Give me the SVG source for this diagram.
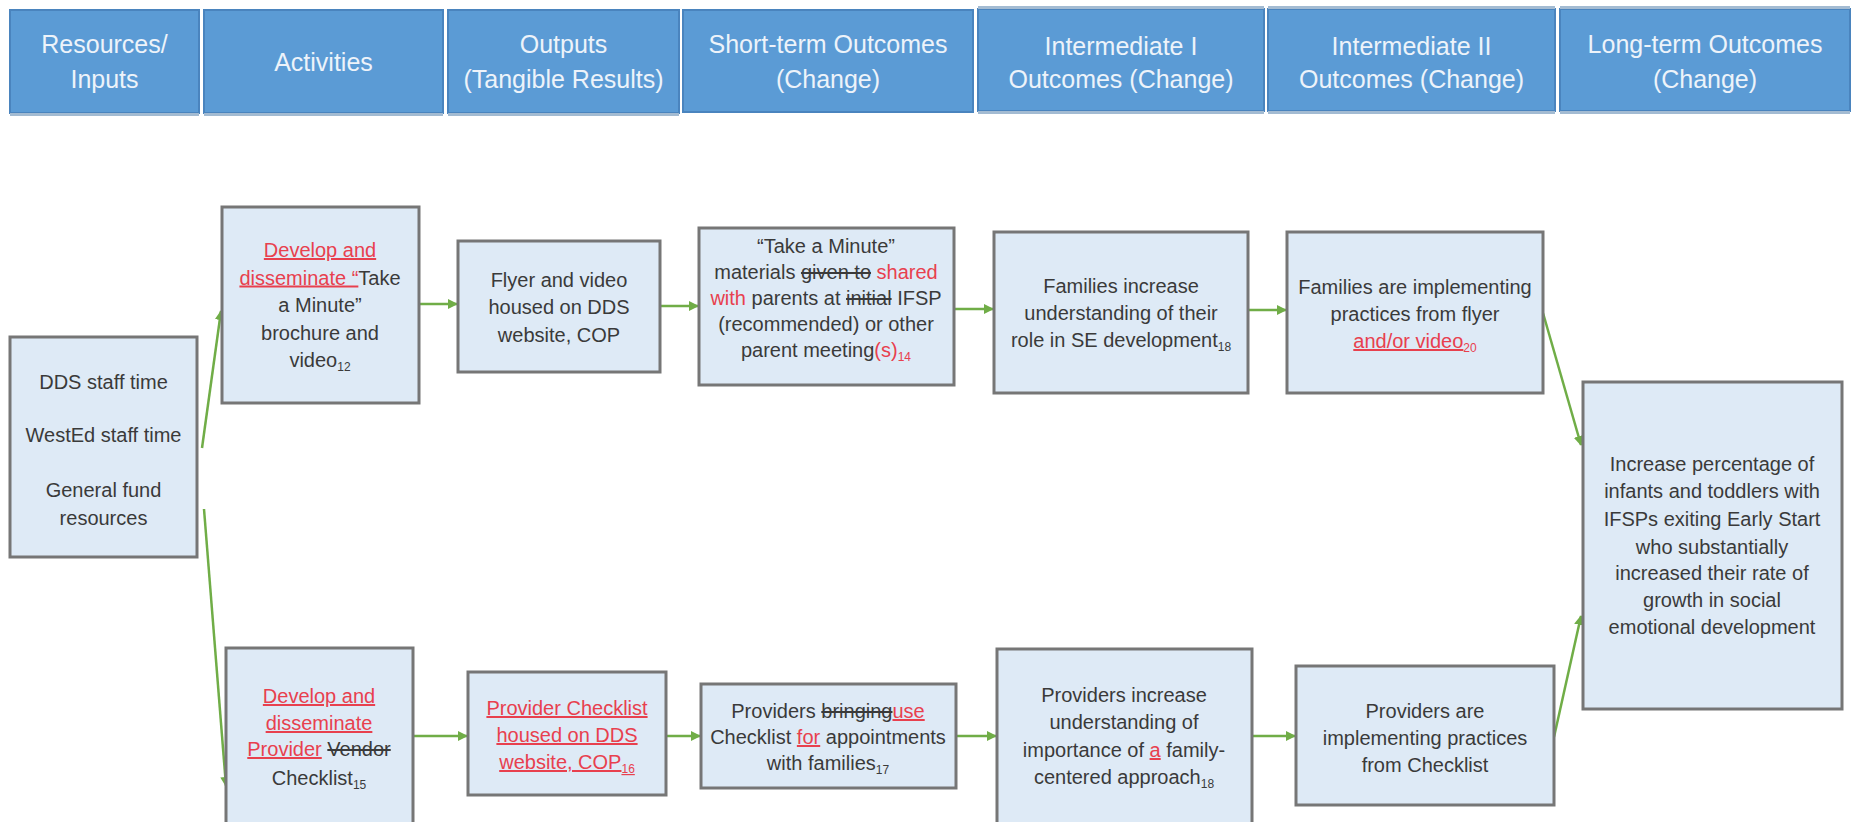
<svg xmlns="http://www.w3.org/2000/svg" width="1857" height="822" viewBox="0 0 1857 822">
<style>
.bg{fill:#FFFFFF}
.hdr{fill:#5B9BD5;stroke:#4A84BE;stroke-width:2}
.hl{stroke:#A3BBD2;stroke-width:3}
.ht{font-family:"Liberation Sans",Arial,sans-serif;font-size:25px;fill:#EDF3FA;text-anchor:middle}
.box{fill:#DEEAF6;stroke:#767676;stroke-width:3}
.t{font-family:"Liberation Sans",Arial,sans-serif;font-size:20px;fill:#3A3A3A;text-anchor:middle}
.r{fill:#E8404E}
.u{text-decoration:underline}
.s{text-decoration:line-through}
.sub{font-size:12px}
.c{stroke:#70AD47;stroke-width:2.5;fill:none;marker-end:url(#ah)}
</style>
<defs>
<marker id="ah" viewBox="0 0 10 10" refX="9" refY="5" markerWidth="10" markerHeight="10" markerUnits="userSpaceOnUse" orient="auto">
<path d="M0,0 L10,5 L0,10 z" fill="#70AD47"/>
</marker>
</defs>
<rect class="bg" x="0" y="0" width="1857" height="822"/>

<g id="headers">
<g id="h1"><rect class="hdr" x="10" y="10" width="189" height="103"/><line class="hl" x1="10" y1="114.5" x2="199" y2="114.5"/><text class="ht" x="104.5" y="53">Resources/</text><text class="ht" x="104.5" y="88">Inputs</text></g>
<g id="h2"><rect class="hdr" x="204" y="10" width="239" height="103"/><line class="hl" x1="204" y1="114.5" x2="443" y2="114.5"/><text class="ht" x="323.5" y="71">Activities</text></g>
<g id="h3"><rect class="hdr" x="448" y="10" width="231" height="103"/><line class="hl" x1="448" y1="114.5" x2="679" y2="114.5"/><text class="ht" x="563.5" y="53">Outputs</text><text class="ht" x="563.5" y="88">(Tangible Results)</text></g>
<g id="h4"><rect class="hdr" x="683" y="10" width="290" height="102"/><text class="ht" x="828" y="53">Short-term Outcomes</text><text class="ht" x="828" y="88">(Change)</text></g>
<g id="h5"><rect class="hdr" x="978" y="9" width="286" height="102"/><line class="hl" x1="978" y1="7.5" x2="1264" y2="7.5"/><line class="hl" x1="978" y1="112.5" x2="1264" y2="112.5"/><text class="ht" x="1121" y="55">Intermediate I</text><text class="ht" x="1121" y="88">Outcomes (Change)</text></g>
<g id="h6"><rect class="hdr" x="1268" y="9" width="287" height="102"/><line class="hl" x1="1268" y1="7.5" x2="1555" y2="7.5"/><line class="hl" x1="1268" y1="112.5" x2="1555" y2="112.5"/><text class="ht" x="1411.5" y="55">Intermediate II</text><text class="ht" x="1411.5" y="88">Outcomes (Change)</text></g>
<g id="h7"><rect class="hdr" x="1560" y="9" width="290" height="102"/><line class="hl" x1="1560" y1="7.5" x2="1850" y2="7.5"/><line class="hl" x1="1560" y1="112.5" x2="1850" y2="112.5"/><text class="ht" x="1705" y="53">Long-term Outcomes</text><text class="ht" x="1705" y="88">(Change)</text></g>
</g>

<g id="connectors">
<line class="c" x1="202" y1="448" x2="221" y2="311"/>
<line class="c" x1="204" y1="509" x2="226" y2="786"/>
<line class="c" x1="419" y1="304" x2="457" y2="304"/>
<line class="c" x1="660" y1="306" x2="698" y2="306"/>
<line class="c" x1="955" y1="309" x2="993" y2="309"/>
<line class="c" x1="1248" y1="310" x2="1286" y2="310"/>
<line class="c" x1="1543" y1="313" x2="1581" y2="445"/>
<line class="c" x1="413" y1="736" x2="467" y2="736"/>
<line class="c" x1="664" y1="736" x2="700" y2="736"/>
<line class="c" x1="956" y1="736" x2="996" y2="736"/>
<line class="c" x1="1252" y1="736" x2="1295" y2="736"/>
<line class="c" x1="1554" y1="737" x2="1581" y2="616"/>
</g>

<g id="resources">
<rect class="box" x="10" y="337" width="187" height="220"/>
<text class="t" x="103.5" y="389">DDS staff time</text>
<text class="t" x="103.5" y="442">WestEd staff time</text>
<text class="t" x="103.5" y="497">General fund</text>
<text class="t" x="103.5" y="525">resources</text>
</g>

<g id="activity-top">
<rect class="box" x="222" y="207" width="197" height="196"/>
<text class="t" x="320" y="257"><tspan class="r u">Develop and</tspan></text>
<text class="t" x="320" y="284.5"><tspan class="r u">disseminate “</tspan>Take</text>
<text class="t" x="320" y="312">a Minute”</text>
<text class="t" x="320" y="339.5">brochure and</text>
<text class="t" x="320" y="367">video<tspan class="sub" dy="4">12</tspan></text>
</g>

<g id="output-flyer">
<rect class="box" x="458" y="241" width="202" height="131"/>
<text class="t" x="559" y="287">Flyer and video</text>
<text class="t" x="559" y="314">housed on DDS</text>
<text class="t" x="559" y="342">website, COP</text>
</g>

<g id="short-take-a-minute">
<rect class="box" x="699" y="228" width="255" height="157"/>
<text class="t" x="826" y="253">“Take a Minute”</text>
<text class="t" x="826" y="279">materials <tspan class="s">given to</tspan> <tspan class="r">shared</tspan></text>
<text class="t" x="826" y="305"><tspan class="r">with</tspan> parents at <tspan class="s">initial</tspan> IFSP</text>
<text class="t" x="826" y="331">(recommended) or other</text>
<text class="t" x="826" y="357">parent meeting<tspan class="r">(s)</tspan><tspan class="r sub" dy="4">14</tspan></text>
</g>

<g id="inter1-families">
<rect class="box" x="994" y="232" width="254" height="161"/>
<text class="t" x="1121" y="293">Families increase</text>
<text class="t" x="1121" y="320">understanding of their</text>
<text class="t" x="1121" y="347">role in SE development<tspan class="sub" dy="4">18</tspan></text>
</g>

<g id="inter2-families">
<rect class="box" x="1287" y="232" width="256" height="161"/>
<text class="t" x="1415" y="294">Families are implementing</text>
<text class="t" x="1415" y="321">practices from flyer</text>
<text class="t" x="1415" y="348"><tspan class="r u">and/or video</tspan><tspan class="r sub" dy="4">20</tspan></text>
</g>

<g id="long-term">
<rect class="box" x="1583" y="382" width="259" height="327"/>
<text class="t" x="1712" y="471">Increase percentage of</text>
<text class="t" x="1712" y="498">infants and toddlers with</text>
<text class="t" x="1712" y="526">IFSPs exiting Early Start</text>
<text class="t" x="1712" y="554">who substantially</text>
<text class="t" x="1712" y="580">increased their rate of</text>
<text class="t" x="1712" y="607">growth in social</text>
<text class="t" x="1712" y="634">emotional development</text>
</g>

<g id="activity-bottom">
<rect class="box" x="226" y="648" width="187" height="185"/>
<text class="t" x="319" y="703"><tspan class="r u">Develop and</tspan></text>
<text class="t" x="319" y="730"><tspan class="r u">disseminate</tspan></text>
<text class="t" x="319" y="756"><tspan class="r u">Provider</tspan> <tspan class="s">Vendor</tspan></text>
<text class="t" x="319" y="785">Checklist<tspan class="sub" dy="4">15</tspan></text>
</g>

<g id="output-checklist">
<rect class="box" x="468" y="672" width="198" height="123"/>
<text class="t" x="567" y="715"><tspan class="r u">Provider Checklist</tspan></text>
<text class="t" x="567" y="742"><tspan class="r u">housed on DDS</tspan></text>
<text class="t" x="567" y="769"><tspan class="r u">website, COP</tspan><tspan class="r sub u" dy="4">16</tspan></text>
</g>

<g id="short-providers">
<rect class="box" x="701" y="684" width="255" height="104"/>
<text class="t" x="828" y="718">Providers <tspan class="s">bringing</tspan><tspan class="r u">use</tspan></text>
<text class="t" x="828" y="744">Checklist <tspan class="r u">for</tspan> appointments</text>
<text class="t" x="828" y="770">with families<tspan class="sub" dy="4">17</tspan></text>
</g>

<g id="inter1-providers">
<rect class="box" x="997" y="649" width="255" height="185"/>
<text class="t" x="1124" y="702">Providers increase</text>
<text class="t" x="1124" y="729">understanding of</text>
<text class="t" x="1124" y="757">importance of <tspan class="r u">a</tspan> family-</text>
<text class="t" x="1124" y="784">centered approach<tspan class="sub" dy="4">18</tspan></text>
</g>

<g id="inter2-providers">
<rect class="box" x="1296" y="666" width="258" height="139"/>
<text class="t" x="1425" y="718">Providers are</text>
<text class="t" x="1425" y="745">implementing practices</text>
<text class="t" x="1425" y="772">from Checklist</text>
</g>
</svg>
